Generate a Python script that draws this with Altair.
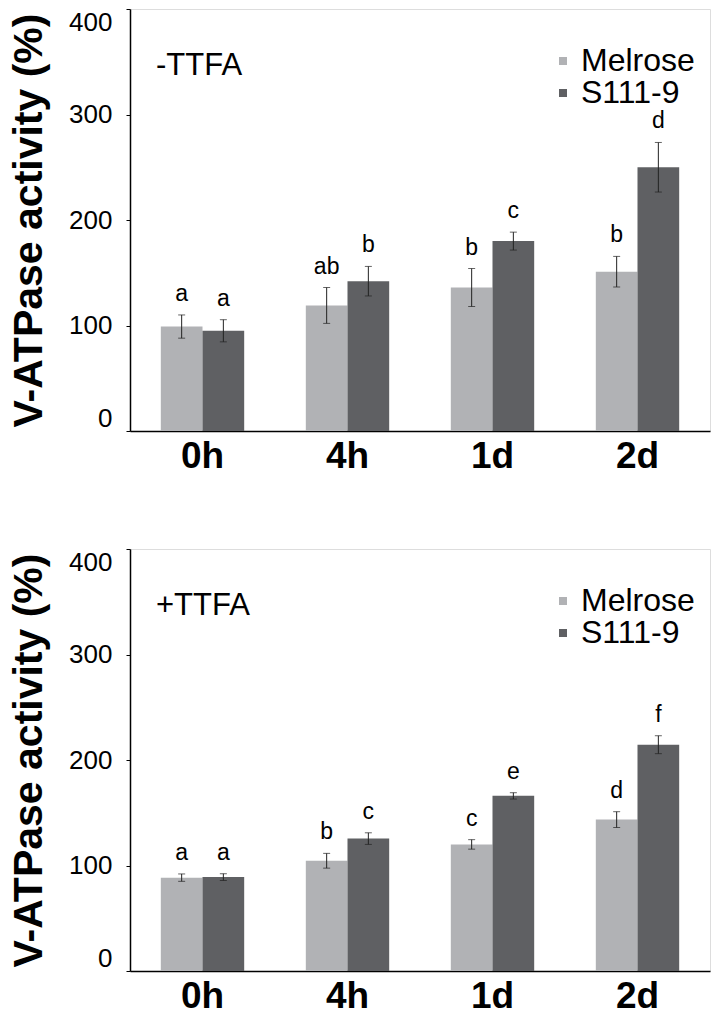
import altair as alt
import pandas as pd

times = ["0h", "4h", "1d", "2d"]
series = ["Melrose", "S111-9"]
colors = ["#b1b2b5", "#5f6063"]

# -TTFA
top_melrose = [99, 119, 136, 151]
top_melrose_err = [11, 17, 18, 14.5]
top_s111 = [95, 142, 180, 250]
top_s111_err = [10.5, 14, 8.5, 23.5]
top_melrose_letters = ["a", "ab", "b", "b"]
top_s111_letters = ["a", "b", "c", "d"]

# +TTFA
bot_melrose = [88.5, 104.5, 120, 143.5]
bot_melrose_err = [3.5, 7, 4.5, 7.5]
bot_s111 = [89, 125.5, 166, 214.5]
bot_s111_err = [3.2, 5.5, 3, 8.5]
bot_melrose_letters = ["a", "b", "c", "d"]
bot_s111_letters = ["a", "c", "e", "f"]

FONT = "Liberation Sans"
W = 580
H = 422


def make_df(mel, mel_err, mel_let, s, s_err, s_let):
    rows = []
    for i, t in enumerate(times):
        rows.append(dict(time=t, variety=series[0], value=mel[i], err=mel_err[i], letter=mel_let[i]))
        rows.append(dict(time=t, variety=series[1], value=s[i], err=s_err[i], letter=s_let[i]))
    return pd.DataFrame(rows)


def panel(df, label):
    base = alt.Chart(df).transform_calculate(
        lo="datum.value - datum.err", hi="datum.value + datum.err"
    )
    x = alt.X("time:N", sort=times,
              scale=alt.Scale(paddingInner=0.425, paddingOuter=0.2125),
              axis=alt.Axis(title=None, labelAngle=0, labelFontSize=37, labelFontWeight="bold",
                            labelFont=FONT, labelColor="black", ticks=False, labelPadding=7,
                            domainColor="black", domainWidth=1.5))
    xo = alt.XOffset("variety:N", sort=series, scale=alt.Scale(paddingInner=0, paddingOuter=0))
    y = alt.Y("value:Q", scale=alt.Scale(domain=[0, 400]),
              axis=alt.Axis(title="V-ATPase activity (%)", values=[0, 100, 200, 300, 400],
                            grid=False, labelFlush=True, labelFontSize=26, labelFont=FONT,
                            labelColor="black", tickSize=4, tickColor="black", labelPadding=14,
                            domainColor="black", domainWidth=1.5,
                            titleFontSize=41, titleFont=FONT, titleFontWeight="bold",
                            titleColor="black", titlePadding=18))
    bars = base.mark_bar().encode(
        x=x, xOffset=xo, y=y,
        color=alt.Color("variety:N", sort=series,
                        scale=alt.Scale(domain=series, range=colors),
                        legend=alt.Legend(title=None, orient="none", legendX=417, legendY=36,
                                          symbolType="square", symbolSize=64, symbolStrokeWidth=0,
                                          labelFontSize=32, labelFont=FONT, labelColor="black",
                                          labelOffset=2, rowPadding=-3, padding=0)),
    )
    rules = base.mark_rule(color="#222", strokeWidth=1).encode(
        x=alt.X("time:N", sort=times), xOffset=alt.XOffset("variety:N", sort=series),
        y="lo:Q", y2="hi:Q")
    caps_hi = base.mark_tick(color="#222", thickness=1, size=7, orient="horizontal").encode(
        x=alt.X("time:N", sort=times), xOffset=alt.XOffset("variety:N", sort=series), y="hi:Q")
    caps_lo = base.mark_tick(color="#222", thickness=1, size=7, orient="horizontal").encode(
        x=alt.X("time:N", sort=times), xOffset=alt.XOffset("variety:N", sort=series), y="lo:Q")
    letters = base.mark_text(font=FONT, fontSize=23, color="black", baseline="bottom", dy=-9).encode(
        x=alt.X("time:N", sort=times), xOffset=alt.XOffset("variety:N", sort=series),
        y="hi:Q", text="letter:N")
    lab = alt.Chart(pd.DataFrame({"t": [label]})).mark_text(
        font=FONT, fontSize=31, color="black", align="left", baseline="middle"
    ).encode(x=alt.value(26), y=alt.value(57), text="t:N")
    return alt.layer(bars, rules, caps_hi, caps_lo, letters, lab).properties(width=W, height=H)


top = panel(make_df(top_melrose, top_melrose_err, top_melrose_letters,
                    top_s111, top_s111_err, top_s111_letters), "-TTFA")
bot = panel(make_df(bot_melrose, bot_melrose_err, bot_melrose_letters,
                    bot_s111, bot_s111_err, bot_s111_letters), "+TTFA")

chart = alt.vconcat(top, bot, spacing=118, bounds="flush").resolve_scale(
    color="independent").resolve_legend(color="independent").properties(
    padding=0
).configure_view(stroke="#333", strokeWidth=1).configure(background="white")

chart.save("out.html", embed_options={"renderer": "svg", "actions": False})
